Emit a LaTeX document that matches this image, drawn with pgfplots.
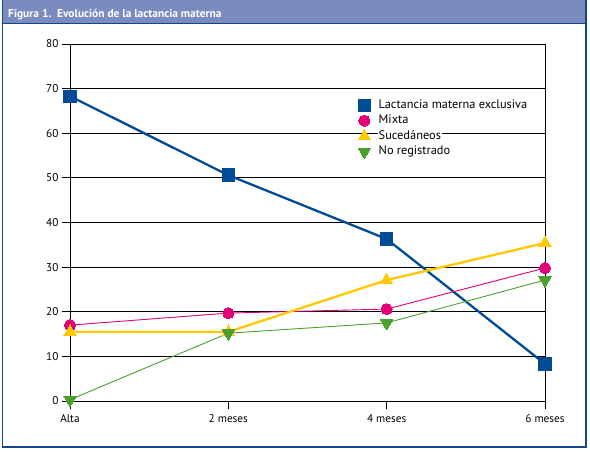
\documentclass[border=0pt]{standalone}
\usepackage{pgfplots}
\pgfplotsset{compat=1.18}
\usepackage{fontspec}
\setmainfont{PT Sans}
\definecolor{cLact}{RGB}{0,75,150}
\definecolor{cMix}{RGB}{225,0,120}
\definecolor{cSuc}{RGB}{255,200,0}
\definecolor{cNoR}{RGB}{75,160,45}
\definecolor{cHead}{RGB}{122,139,192}
\definecolor{cFrame}{RGB}{20,70,140}
\begin{document}
\begin{tikzpicture}
\useasboundingbox (0bp,0bp) rectangle (590bp,452bp);
% frame and header band
\fill[cHead] (2.5bp,428.5bp) rectangle (586bp,452bp);
\draw[cFrame, line width=1.4bp] (2.5bp,428.5bp) -- (586bp,428.5bp);
\draw[cFrame, line width=1.4bp] (2.5bp,452bp) -- (2.5bp,5bp) -- (586bp,5bp) -- (586bp,452bp);
\node[anchor=base west, text=white, font=\bfseries\fontsize{11.5}{13}\selectfont, inner sep=0pt]
  at (8bp,434.5bp) {Figura 1.\ \ Evolución de la lactancia materna};
\begin{axis}[
    at={(70bp,51bp)}, anchor=south west,
    scale only axis, width=475bp, height=357bp,
    xmin=0, xmax=3, ymin=0, ymax=80,
    xtick={0,1,2,3}, xticklabels={Alta,2 meses,4 meses,6 meses},
    ytick={0,10,...,80},
    xtick pos=left, ytick pos=left, tick align=outside,
    major tick length=8bp,
    ymajorgrids, grid style={black, line width=0.8bp},
    axis line style={black, line width=0.8bp},
    every tick/.style={black, line width=0.8bp},
    tick label style={font=\fontsize{11.3}{13}\selectfont},
    xticklabel style={yshift=-1.5bp},
    /pgf/number format/assume math mode=true,
    clip=false,
    legend style={at={(rel axis cs:0.6,0.853)}, anchor=north west,
      draw=none, fill=none, row sep=1.8bp,
      font=\fontsize{12.4}{14}\selectfont,
      nodes={fill=white, inner sep=1pt, text height=9bp, text depth=2.5bp}},
    legend cell align=left,
    legend image code/.code={\draw[#1] plot coordinates {(0.1cm,0cm)}; \path (15bp,0bp);},
  ]
\addplot[cLact, line width=2.3bp, mark=square*, mark size=6.2bp, mark options={solid, fill=cLact, line width=0pt}]
  coordinates {(0,68.3) (1,50.6) (2,36.3) (3,8.3)};
\addlegendentry{Lactancia materna exclusiva}
\addplot[cMix, line width=0.9bp, mark=*, mark size=5.6bp, mark options={fill=cMix, line width=0pt}]
  coordinates {(0,17.0) (1,19.7) (2,20.6) (3,29.8)};
\addlegendentry{Mixta}
\addplot[cSuc, line width=2.3bp, mark=triangle*, mark size=7bp, mark options={fill=cSuc, line width=0pt}]
  coordinates {(0,15.5) (1,15.5) (2,27.1) (3,35.4)};
\addlegendentry{Sucedáneos}
\addplot[cNoR, line width=0.9bp, mark=triangle*, mark size=7bp, mark options={fill=cNoR, line width=0pt, rotate=180}]
  coordinates {(0,0.3) (1,15.2) (2,17.5) (3,27.1)};
\addlegendentry{No registrado}
\end{axis}
\end{tikzpicture}
\end{document}
